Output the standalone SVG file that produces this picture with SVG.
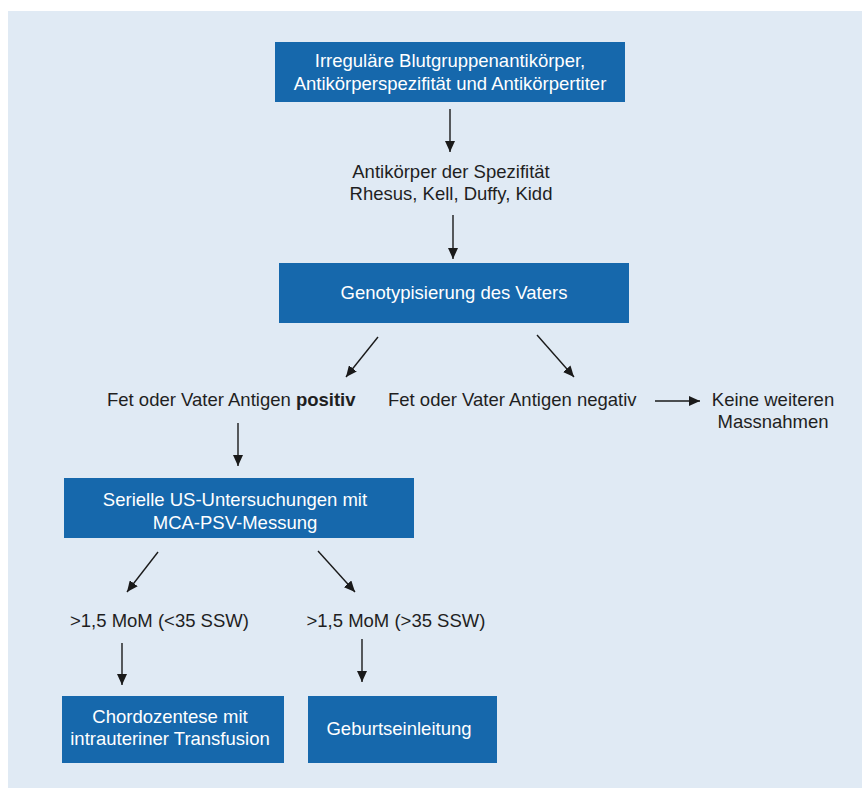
<svg xmlns="http://www.w3.org/2000/svg" width="862" height="788" viewBox="0 0 862 788">
<style>
.box{fill:#1668ac}
.wt{fill:#ffffff;font-family:"Liberation Sans",Arial,sans-serif;font-size:18.5px;text-anchor:middle}
.bt{fill:#1f1f1f;font-family:"Liberation Sans",Arial,sans-serif;font-size:18.5px}
.c{text-anchor:middle}
.ln{stroke:#1a1a1a;stroke-width:1.4;fill:none;marker-end:url(#ah)}
</style>
<defs>
<marker id="ah" markerUnits="userSpaceOnUse" markerWidth="12" markerHeight="10" refX="11" refY="5" orient="auto">
<path d="M0,0 L11,5 L0,10 Z" fill="#1a1a1a"/>
</marker>
</defs>
<rect x="0" y="0" width="862" height="788" fill="#ffffff"/>
<rect x="8" y="11" width="854" height="777" fill="#e0eaf4"/>
<g id="connectors">
<line class="ln" x1="450" y1="109" x2="450" y2="152"/>
<line class="ln" x1="453" y1="215" x2="453" y2="259"/>
<line class="ln" x1="378" y1="337" x2="346" y2="377"/>
<line class="ln" x1="537" y1="335" x2="574" y2="377"/>
<line class="ln" x1="655" y1="401" x2="700" y2="401"/>
<line class="ln" x1="238" y1="423" x2="238" y2="466"/>
<line class="ln" x1="158" y1="552" x2="127" y2="592"/>
<line class="ln" x1="318" y1="551" x2="355" y2="592"/>
<line class="ln" x1="122" y1="643" x2="122" y2="685"/>
<line class="ln" x1="362" y1="639" x2="362" y2="682"/>
</g>
<g id="n1">
<rect class="box" x="275" y="42" width="350" height="60"/>
<text class="wt" x="450" y="66.5">Irreguläre Blutgruppenantikörper,</text>
<text class="wt" x="450" y="90">Antikörperspezifität und Antikörpertiter</text>
</g>
<g id="n2">
<text class="bt c" x="451" y="178">Antikörper der Spezifität</text>
<text class="bt c" x="451" y="200">Rhesus, Kell, Duffy, Kidd</text>
</g>
<g id="n3">
<rect class="box" x="279" y="263" width="350" height="60"/>
<text class="wt" x="454" y="299">Genotypisierung des Vaters</text>
</g>
<g id="n4">
<text class="bt" x="107" y="406">Fet oder Vater Antigen <tspan font-weight="bold">positiv</tspan></text>
</g>
<g id="n5">
<text class="bt" x="388" y="406">Fet oder Vater Antigen negativ</text>
</g>
<g id="n6">
<text class="bt c" x="773" y="406">Keine weiteren</text>
<text class="bt c" x="773" y="428">Massnahmen</text>
</g>
<g id="n7">
<rect class="box" x="64" y="478" width="350" height="60"/>
<text class="wt" x="235" y="505.5">Serielle US-Untersuchungen mit</text>
<text class="wt" x="235" y="529">MCA-PSV-Messung</text>
</g>
<g id="n8">
<text class="bt" x="70" y="626.5">&gt;1,5 MoM (&lt;35 SSW)</text>
</g>
<g id="n9">
<text class="bt" x="306.5" y="626.5">&gt;1,5 MoM (&gt;35 SSW)</text>
</g>
<g id="n10">
<rect class="box" x="62" y="696" width="222" height="67"/>
<text class="wt" x="170" y="722.5">Chordozentese mit</text>
<text class="wt" x="170" y="745">intrauteriner Transfusion</text>
</g>
<g id="n11">
<rect class="box" x="308" y="696" width="189" height="67"/>
<text class="wt" x="399" y="735">Geburtseinleitung</text>
</g>
</svg>
